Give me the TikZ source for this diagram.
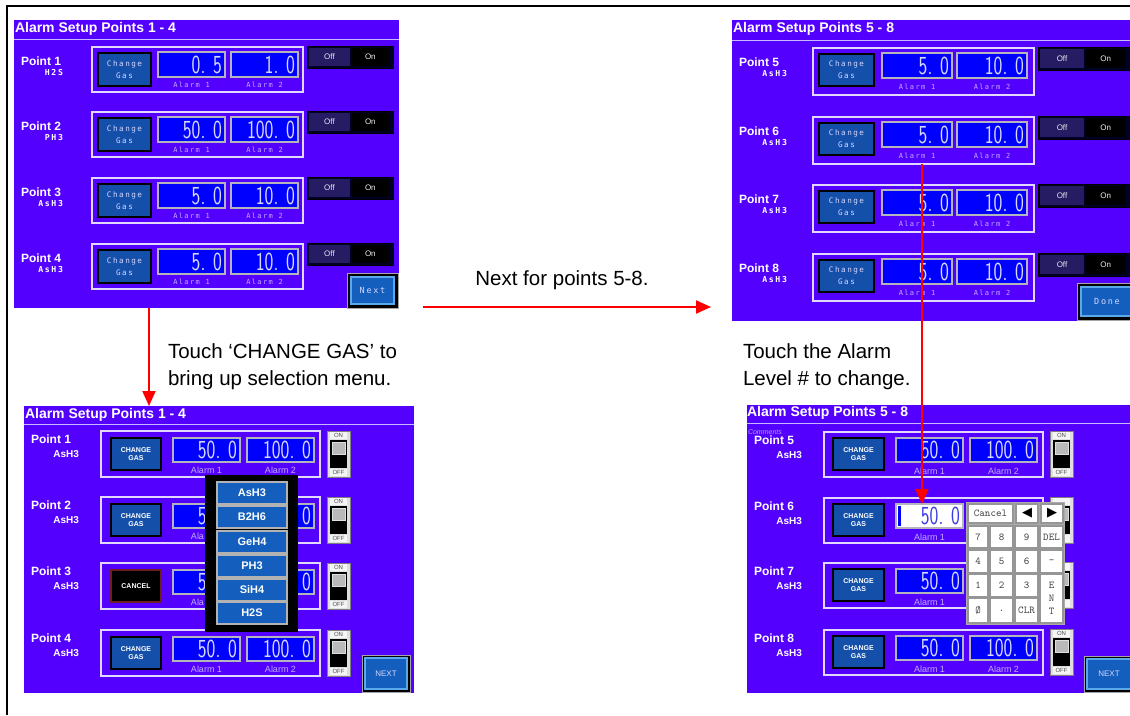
\documentclass[tikz,border=0pt]{standalone}
\usepackage{graphicx}
\usepackage{fontspec}
\setmainfont{Liberation Sans}
\newfontfamily\pix[LetterSpace=20]{DejaVu Sans Mono}
\newfontfamily\dejav{DejaVu Sans}
\usetikzlibrary{arrows.meta}
\definecolor{pblue}{RGB}{84,0,255}
\definecolor{frmcol}{RGB}{225,215,255}
\definecolor{sepcol}{RGB}{200,185,255}
\definecolor{gasblue}{RGB}{20,80,170}
\definecolor{alblue}{RGB}{0,0,255}
\definecolor{valcol}{RGB}{215,215,255}
\definecolor{lblcol}{RGB}{190,175,255}
\definecolor{offcol}{RGB}{38,28,100}
\definecolor{bevel}{RGB}{180,180,190}
\definecolor{keygray}{RGB}{150,150,150}
\definecolor{arrred}{RGB}{255,0,0}
\definecolor{btnblue}{RGB}{20,95,190}
\definecolor{btnedge}{RGB}{90,170,235}
\definecolor{cmtcol}{RGB}{170,160,240}
\definecolor{editblue}{RGB}{60,60,230}
\definecolor{cancedge}{RGB}{110,30,30}

\newcommand\valfont{\sffamily\fontsize{26}{26}\selectfont}
\newcommand\rb[7]{\node[#6, anchor=north west, minimum width={(#4)*1pt}, minimum height={(#5)*1pt}] (#1) at ({#2},{#3}) {#7};}
% visibility flags for parts hidden behind pop-ups
\def\qsa{1}\def\qsb{1}\def\qsl{1}\def\qst{1}\def\qlA{Alarm 1}
\newcommand\tgtxt[1]{\ifnum\qst=1 #1\fi}

% old style row (top screens)
\newcommand\oldrow[7]{%
 \rb{#1f}{#2}{#3}{\qfw}{\qfh}{frm}{}
 \rb{#1g}{#2+\qgx}{#3+\qgy}{\qgw}{\qgh}{oldgas}{Change\\Gas}
 \rb{#1a}{#2+\qax}{#3+\qay}{\qaw}{\qah}{almbox}{}
 \rb{#1b}{#2+\qbx}{#3+\qay}{\qaw}{\qah}{almbox}{}
 \node[valtxt, anchor=east] (#1av) at ([xshift=-3pt]#1a.east) {\scalebox{0.72}[1]{#6}};
 \node[valtxt, anchor=east] (#1bv) at ([xshift=-3pt]#1b.east) {\scalebox{0.72}[1]{#7}};
 \node[oldlbl] (#1al) at ({#2+\qax+\qaw/2},{#3+\qly}) {Alarm 1};
 \node[oldlbl] (#1bl) at ({#2+\qbx+\qaw/2},{#3+\qly}) {Alarm 2};
 \rb{#1t}{#2+\qtx}{#3+\qty}{\qtw}{\qth}{togbg}{}
 \rb{#1toff}{#2+\qtx+2}{#3+\qty+2}{\qtw*0.5-2}{\qth-4}{togoff}{Off}
 \rb{#1ton}{#2+\qtx+\qtw*0.5+2}{#3+\qty+2}{\qtw*0.45-2}{\qth-4}{togon}{On}
 \node[ptlbl, anchor=west] (#1p) at (\qplx,{#3+\qpa}) {Point #4};
 \node[oldsub, anchor=east] (#1s) at (\qslx,{#3+\qpb}) {#5};
}

% new style row (bottom screens)
\newcommand\newrow[9]{%
 \rb{#1f}{#2}{#3}{\qfw}{\qfh}{frm}{}
 \rb{#1g}{#2+\qgx}{#3+\qgy}{\qgw}{\qgh}{#8}{#9}
 \rb{#1a}{#2+\qax}{#3+\qay}{\qaw}{\qah}{almbox}{}
 \rb{#1b}{#2+\qbx}{#3+\qay}{\qaw}{\qah}{almbox}{}
 \ifnum\qsa=1 \node[valtxt, anchor=east] (#1av) at ([xshift=-3pt]#1a.east) {\scalebox{0.72}[1]{#6}};\fi
 \ifnum\qsb=1 \node[valtxt, anchor=east] (#1bv) at ([xshift=-3pt]#1b.east) {\scalebox{0.72}[1]{#7}};\fi
 \node[newlbl] (#1al) at ({#2+\qax+\qaw/2},{#3+\qly}) {\qlA};
 \ifnum\qsl=1 \node[newlbl] (#1bl) at ({#2+\qbx+\qaw/2},{#3+\qly}) {Alarm 2};\fi
 \rb{#1t}{#2+\qtx}{#3+\qty}{\qtw}{\qth}{vtog}{}
 \node[vtlbl] (#1ton) at ({#2+\qtx+\qtw/2},{#3+\qty+4.5}) {\tgtxt{ON}};
 \rb{#1tb}{#2+\qtx+3}{#3+\qty+9}{\qtw-6}{\qth-18}{vtbody}{}
 \rb{#1ts}{#2+\qtx+5}{#3+\qty+11}{\qtw-10}{12}{vtslide}{}
 \node[vtlbl] (#1toff) at ({#2+\qtx+\qtw/2},{#3+\qty+\qth-4.5}) {\tgtxt{OFF}};
 \node[ptlbl, anchor=west] (#1p) at (\qplx,{#3+\qpa}) {Point #4};
 \node[newsub, anchor=east] (#1s) at (\qslx,{#3+\qpb}) {#5};
}

\tikzset{
 every node/.style={inner sep=0pt, outer sep=0pt, align=center},
 panelbg/.style={fill=pblue},
 frm/.style={draw=frmcol, line width=1.4pt},
 oldgas/.style={fill=gasblue, draw=black, line width=2pt, text=valcol, font=\pix\fontsize{7.6}{12}\selectfont},
 newgas/.style={fill=gasblue, draw=black, line width=1.6pt, text=white, font=\bfseries\fontsize{7}{8.5}\selectfont},
 cancelbtn/.style={fill=black, draw=cancedge, line width=1.6pt, text=white, font=\bfseries\fontsize{7}{8.5}\selectfont},
 almbox/.style={fill=alblue, draw=bevel, line width=2pt},
 valtxt/.style={text=valcol, font=\valfont},
 oldlbl/.style={text=lblcol, font=\pix\fontsize{7}{7}\selectfont},
 newlbl/.style={text=lblcol, font=\fontsize{9}{10}\selectfont},
 togbg/.style={fill=black!85!blue, draw=black, line width=1pt},
 togoff/.style={fill=offcol, text=white!80!gray, font=\fontsize{8}{8}\selectfont},
 togon/.style={fill=black, text=white!85!gray, font=\fontsize{8}{8}\selectfont},
 vtog/.style={fill=white!75!gray, draw=gray, line width=0.8pt},
 vtlbl/.style={fill=white!92!gray, text=black!70, font=\fontsize{6}{6}\selectfont, minimum width=17pt, minimum height=6.5pt},
 vtbody/.style={fill=black},
 vtslide/.style={fill=gray!55, draw=gray!25, line width=0.8pt},
 ptlbl/.style={text=white, font=\bfseries\fontsize{12}{12}\selectfont},
 oldsub/.style={text=white, font=\pix\bfseries\fontsize{8.2}{8}\selectfont},
 newsub/.style={text=white, font=\bfseries\fontsize{10}{10}\selectfont},
 ttl/.style={text=white, font=\bfseries\fontsize{14}{14}\selectfont, anchor=west},
 sep/.style={draw=sepcol, line width=1pt},
 nxtout/.style={fill=black, draw=gray!70, line width=1pt},
 nxtin/.style={fill=btnblue, draw=btnedge, line width=1.5pt, text=valcol},
 menubg/.style={fill=black},
 menubtn/.style={fill=btnblue, draw=gray!60, line width=1.6pt, text=white, font=\bfseries\fontsize{11}{11}\selectfont},
 kpbg/.style={fill=keygray!80},
 keyb/.style={fill=white, draw=keygray, line width=2.6pt, text=black!75, font=\ttfamily\fontsize{10.5}{11}\selectfont},
 keyarr/.style={keyb, text=black, font=\dejav\fontsize{13}{13}\selectfont},
 keyent/.style={keyb, font=\ttfamily\fontsize{10.5}{13}\selectfont},
 editbox/.style={fill=white, draw=bevel, line width=2pt},
 cmt/.style={text=cmtcol, font=\itshape\fontsize{7}{7}\selectfont},
 captxt/.style={text=black, font=\fontsize{20.5}{27}\selectfont},
 redarr/.style={draw=arrred, line width=2pt, -{Triangle[width=13pt,length=15pt]}},
}

\begin{document}
\begin{tikzpicture}[x=1pt,y=-1pt]
\useasboundingbox (0,0) rectangle (1130,715);
\fill[white] (0,0) rectangle (1130,715);
\draw[line width=2pt] (7,715) -- (7,6) -- (1130,6);

% ===== top-left screen =====
\rb{tl}{14}{20}{385}{288}{panelbg}{}
\node[ttl] (tlt) at (15,29) {Alarm Setup Points 1 - 4};
\draw[sep] (14,39) -- (399,39);
\def\qfw{211}\def\qfh{45}\def\qgx{6}\def\qgy{6}\def\qgw{53}\def\qgh{33}
\def\qax{66}\def\qay{5}\def\qaw{67}\def\qah{25}\def\qbx{139}\def\qly{38}
\def\qtx{215}\def\qty{-1}\def\qtw{86}\def\qth{22}\def\qplx{21}\def\qslx{63}\def\qpa{14}\def\qpb{26}
\oldrow{tla}{92}{47}{1}{H2S}{0. 5}{1. 0}
\oldrow{tlb}{92}{112}{2}{PH3}{50. 0}{100. 0}
\oldrow{tlc}{92}{178}{3}{AsH3}{5. 0}{10. 0}
\oldrow{tld}{92}{244}{4}{AsH3}{5. 0}{10. 0}
\rb{tlnxo}{347}{273}{51}{35}{nxtout}{}
\rb{tlnx}{351}{277}{43}{27}{nxtin}{\pix\fontsize{8.5}{9}\selectfont Next}

% ===== top-right screen =====
\rb{tr}{732}{20}{398}{301}{panelbg}{}
\node[ttl] (trt) at (733,29) {Alarm Setup Points 5 - 8};
\draw[sep] (732,40) -- (1130,40);
\def\qfw{221}\def\qfh{47}\def\qgx{6}\def\qgy{6}\def\qgw{55}\def\qgh{32}
\def\qax{69}\def\qay{5}\def\qaw{70}\def\qah{25}\def\qbx{144}\def\qly{39}
\def\qtx{225}\def\qty{-1}\def\qtw{92}\def\qth{23}\def\qplx{739}\def\qslx{787}\def\qpa{14}\def\qpb{26}
\oldrow{tra}{813}{48}{5}{AsH3}{5. 0}{10. 0}
\oldrow{trb}{813}{117}{6}{AsH3}{5. 0}{10. 0}
\oldrow{trc}{813}{185}{7}{AsH3}{5. 0}{10. 0}
\oldrow{trd}{813}{254}{8}{AsH3}{5. 0}{10. 0}
\rb{trdno}{1077}{283}{56}{37}{nxtout}{}
\rb{trdn}{1081}{287}{52}{29}{nxtin}{\pix\fontsize{8.5}{9}\selectfont Done}

% ===== bottom-left screen =====
\rb{bl}{24}{406}{390}{287}{panelbg}{}
\node[ttl] (blt) at (25,415) {Alarm Setup Points 1 - 4};
\draw[sep] (24,424) -- (414,424);
\def\qfw{219}\def\qfh{46}\def\qgx{10}\def\qgy{7}\def\qgw{50}\def\qgh{32}
\def\qax{72}\def\qay{7}\def\qaw{67}\def\qah{24}\def\qbx{146}\def\qly{39}
\def\qtx{226}\def\qty{0}\def\qtw{23}\def\qth{46}\def\qplx{31}\def\qslx{79}\def\qpa{8}\def\qpb{23}
\newrow{bla}{101}{431}{1}{AsH3}{50. 0}{100. 0}{newgas}{CHANGE\\GAS}
\def\qsl{0}\def\qlA{Ala\phantom{rm 1}}
\newrow{blb}{101}{497}{2}{AsH3}{5\phantom{0. 0}}{\phantom{100. }0}{newgas}{CHANGE\\GAS}
\newrow{blc}{101}{563}{3}{AsH3}{5\phantom{0. 0}}{\phantom{100. }0}{cancelbtn}{CANCEL}
\def\qsl{1}\def\qlA{Alarm 1}
\newrow{bld}{101}{630}{4}{AsH3}{50. 0}{100. 0}{newgas}{CHANGE\\GAS}
\rb{blnxo}{362}{655}{48}{37}{nxtout}{}
\rb{blnx}{365}{658}{42}{31}{nxtin}{\fontsize{8}{8}\selectfont NEXT}
% gas selection menu
\rb{menu}{205}{475}{93}{157}{menubg}{}
\rb{m1}{217}{482}{70}{22}{menubtn}{AsH3}
\rb{m2}{217}{506}{70}{22}{menubtn}{B2H6}
\rb{m3}{217}{531}{70}{22}{menubtn}{GeH4}
\rb{m4}{217}{555}{70}{22}{menubtn}{PH3}
\rb{m5}{217}{579}{70}{22}{menubtn}{SiH4}
\rb{m6}{217}{602}{70}{22}{menubtn}{H2S}

% ===== bottom-right screen =====
\rb{br}{747}{405}{383}{288}{panelbg}{}
\node[ttl] (brt) at (747,413) {Alarm Setup Points 5 - 8};
\draw[sep] (747,423) -- (1130,423);
\node[cmt, anchor=west] (brcm) at (748,432) {Comments};
\def\qfw{219}\def\qfh{45}\def\qgx{9}\def\qgy{6}\def\qgw{51}\def\qgh{32}
\def\qax{72}\def\qay{6}\def\qaw{67}\def\qah{24}\def\qbx{146}\def\qly{39}
\def\qtx{226}\def\qty{-1}\def\qtw{23}\def\qth{46}\def\qplx{754}\def\qslx{802}\def\qpa{8}\def\qpb{23}
\newrow{bre}{824}{432}{5}{AsH3}{50. 0}{100. 0}{newgas}{CHANGE\\GAS}
\def\qsa{0}\def\qsb{0}\def\qsl{0}\def\qst{0}
\newrow{brf}{824}{498}{6}{AsH3}{50. 0}{100. 0}{newgas}{CHANGE\\GAS}
\def\qsa{1}
\newrow{brg}{824}{563}{7}{AsH3}{50. 0}{100. 0}{newgas}{CHANGE\\GAS}
\def\qsb{1}\def\qsl{1}\def\qst{1}
\newrow{brh}{824}{630}{8}{AsH3}{50. 0}{100. 0}{newgas}{CHANGE\\GAS}
\rb{brnxo}{1084}{656}{48}{36}{nxtout}{}
\rb{brnx}{1087}{659}{44}{30}{nxtin}{\fontsize{8}{8}\selectfont NEXT}
% edit field
\rb{bre6}{896}{504}{67}{24}{editbox}{}
\fill[alblue] (898,506) rectangle (901,526);
\node[valtxt, text=editblue, anchor=east] (bre6v) at ([xshift=-3pt]bre6.east) {\scalebox{0.72}[1]{50. 0}};
% keypad
\rb{kp}{966}{502}{99}{123}{kpbg}{}
\rb{kcan}{968}{504}{45}{19}{keyb}{Cancel}
\rb{kl}{1016}{504}{22}{19}{keyarr}{◀}
\rb{kr}{1041}{504}{22}{19}{keyarr}{▶}
\rb{k7}{968}{526}{20}{22}{keyb}{7}
\rb{k8}{990}{526}{23}{22}{keyb}{8}
\rb{k9}{1015}{526}{23}{22}{keyb}{9}
\rb{kdel}{1040}{526}{23}{22}{keyb}{DEL}
\rb{k4}{968}{550}{20}{23}{keyb}{4}
\rb{k5}{990}{550}{23}{23}{keyb}{5}
\rb{k6}{1015}{550}{23}{23}{keyb}{6}
\rb{kmin}{1040}{550}{23}{23}{keyb}{-}
\rb{k1}{968}{574}{20}{23}{keyb}{1}
\rb{k2}{990}{574}{23}{23}{keyb}{2}
\rb{k3}{1015}{574}{23}{23}{keyb}{3}
\rb{kent}{1040}{574}{23}{49}{keyent}{E\\N\\T}
\rb{k0}{968}{598}{20}{25}{keyb}{Ø}
\rb{kdot}{990}{598}{23}{25}{keyb}{.}
\rb{kclr}{1015}{598}{23}{25}{keyb}{CLR}

% ===== captions =====
\node[captxt, anchor=west, align=left] (capa) at (168,367) {Touch ‘CHANGE GAS’ to\\bring up selection menu.};
\node[captxt, anchor=west, align=left] (capb) at (743,367) {Touch the Alarm\\Level \# to change.};
\node[captxt] (capc) at (562,280) {Next for points 5-8.};

% ===== arrows =====
\coordinate (ax1) at (149,0);
\coordinate (ay2) at (0,307);
\coordinate (ax3) at (922,0);
\draw[redarr] (tl.south -| ax1) -- (bl.north -| ax1);
\draw[redarr, shorten <=24pt, shorten >=21pt] (tl.east |- ay2) -- (tr.west |- ay2);
\draw[redarr] (trbf.south -| ax3) -- (bre6.north -| ax3);
\end{tikzpicture}
\end{document}
